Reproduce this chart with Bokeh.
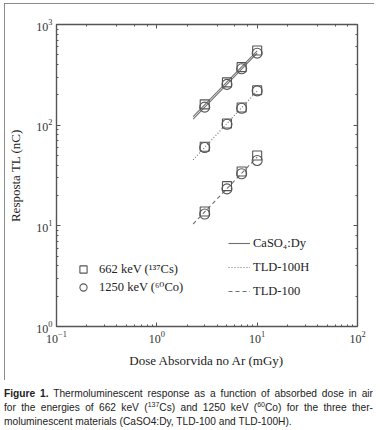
import numpy as np
from bokeh.plotting import figure
from bokeh.models import LogAxis, Legend, LegendItem, Div
from bokeh.layouts import column
from bokeh.embed import file_html
from bokeh.resources import INLINE

# ---- data ----
dose = [3, 5, 7, 10]                       # mGy
caso4_cs = [161, 266, 377, 552]            # 662 keV (137Cs)
caso4_co = [151, 254, 363, 519]            # 1250 keV (60Co)
tld100h_cs = [61, 104, 150, 222]
tld100h_co = [60, 102, 147, 219]
tld100_cs = [13.9, 24.8, 34.7, 50.0]
tld100_co = [13.1, 23.3, 32.9, 44.6]
fit_dose = [2.3, 10]                       # extent of the fitted lines

legend_energy = ["662 keV (\u00b9\u00b3\u2077Cs)", "1250 keV (\u2076\u2070Co)"]
legend_material = ["CaSO\u2084:Dy", "TLD-100H", "TLD-100"]
x_label = "Dose Absorvida no Ar (mGy)"
y_label = "Resposta TL (nC)"

GRAY = "#555555"
LINE = "#707070"
SERIF = "Liberation Serif"
SERIF_FB = "Liberation Serif, DejaVu Serif"


def power_fit(xs, ys, xe):
    k, b = np.polyfit(np.log10(xs), np.log10(ys), 1)
    return list(10 ** (k * np.log10(np.array(xe, float)) + b))


p = figure(width=370, height=377, x_axis_type="log", y_axis_type="log",
           x_range=(0.1, 100), y_range=(1, 1000),
           output_backend="svg", toolbar_location=None,
           min_border_left=52, min_border_right=17,
           min_border_top=21, min_border_bottom=54,
           background_fill_color="white", border_fill_color="white",
           margin=(3, 0, 0, 4),
           styles={"outline": "1.3px solid #666", "outline-offset": "-1px",
                   "flex-shrink": "0"})
p.grid.visible = False
p.outline_line_color = None

# fitted lines
l_ca1 = p.line(fit_dose, power_fit(dose, caso4_cs, fit_dose), line_color=LINE, line_width=1.1)
l_ca2 = p.line(fit_dose, power_fit(dose, caso4_co, fit_dose), line_color=LINE, line_width=1.1)
l_h = p.line(fit_dose, power_fit(dose + dose, tld100h_cs + tld100h_co, fit_dose),
             line_color=LINE, line_width=1.1, line_dash="1 2")
l_t = p.line(fit_dose, power_fit(dose + dose, tld100_cs + tld100_co, fit_dose),
             line_color=LINE, line_width=1.1, line_dash="4 3")

sq = []
ci = []
for ys in (caso4_cs, tld100h_cs, tld100_cs):
    sq.append(p.scatter(dose, ys, marker="square", size=9, fill_alpha=0,
                        line_color=GRAY, line_width=1.1))
for ys in (caso4_co, tld100h_co, tld100_co):
    ci.append(p.scatter(dose, ys, marker="circle", size=10, fill_alpha=0,
                        line_color=GRAY, line_width=1.1))

# mirrored axes
p.add_layout(LogAxis(), "above")
p.add_layout(LogAxis(), "right")
for ax in p.axis:
    ax.axis_line_color = GRAY
    ax.axis_line_width = 1.4
    ax.major_tick_in = 4
    ax.major_tick_out = 0
    ax.minor_tick_in = 2
    ax.minor_tick_out = 0
    ax.major_tick_line_color = GRAY
    ax.minor_tick_line_color = GRAY
    ax.major_label_text_font = SERIF
    ax.major_label_text_font_size = "12px"
    ax.major_label_text_color = "#333333"
    ax.axis_label_text_font = SERIF
    ax.axis_label_text_font_size = "13px"
    ax.axis_label_text_font_style = "normal"
    ax.axis_label_text_color = "#222222"
for ax in (p.above[0], p.right[0]):
    ax.major_label_text_font_size = "1px"
    ax.major_label_text_alpha = 0
    ax.major_label_standoff = 0

xb = p.below[0]
yl = p.left[0]
xb.axis_label = x_label
yl.axis_label = y_label
xb.major_label_standoff = 4
xb.axis_label_standoff = 7
yl.major_label_standoff = 4
yl.axis_label_standoff = 10

common = dict(border_line_color=None, background_fill_alpha=0, padding=0, margin=0,
              spacing=0, label_text_font=SERIF_FB, label_text_font_size="12.5px",
              label_text_color="#222222")
leg1 = Legend(items=[LegendItem(label=legend_energy[0], renderers=[sq[0]]),
                     LegendItem(label=legend_energy[1], renderers=[ci[0]])],
              location=(17, 30), glyph_width=20, glyph_height=18, label_height=18,
              label_standoff=6, **common)
leg2 = Legend(items=[LegendItem(label=legend_material[0], renderers=[l_ca1]),
                     LegendItem(label=legend_material[1], renderers=[l_h]),
                     LegendItem(label=legend_material[2], renderers=[l_t])],
              location=(172, 23), glyph_width=22, glyph_height=24, label_height=24,
              label_standoff=3, **common)
p.add_layout(leg1)
p.add_layout(leg2)

sup = '<span style="font-size:7px;vertical-align:4px;line-height:0">'
jl = 'style="text-align:justify;text-align-last:justify"'
caption = Div(width=370, height=42, margin=(0, 0, 0, 4), text=(
    '<div style="font-family:\'Liberation Sans\',Arial,sans-serif;font-size:10.2px;'
    'line-height:14px;color:#222;position:relative;top:7px;width:369px">'
    f'<div {jl}><b>Figure 1.</b> Thermoluminescent response as a function of absorbed dose in air</div>'
    f'<div {jl}>for the energies of 662 keV ({sup}137</span>Cs) and 1250 keV ({sup}60</span>Co) for the three ther-</div>'
    '<div>moluminescent materials (CaSO4:Dy, TLD-100 and TLD-100H).</div>'
    '</div>'))

layout = column(p, caption, spacing=0)
open("out.html", "w").write(file_html(layout, INLINE))
